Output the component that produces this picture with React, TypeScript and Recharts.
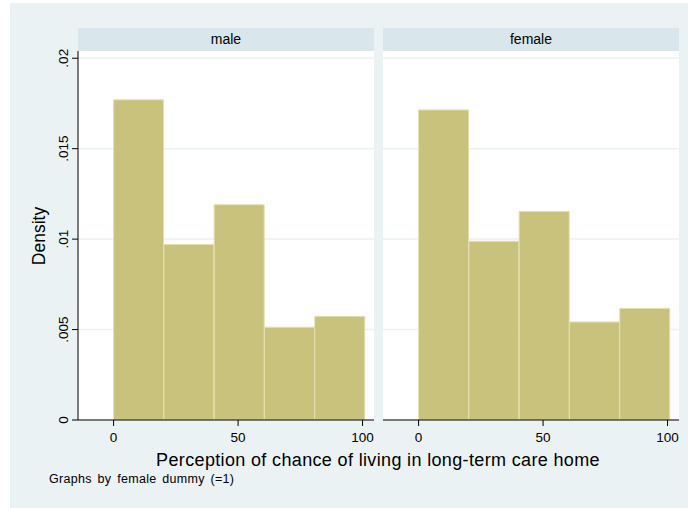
import React from "react";
import { BarChart, Bar, XAxis, YAxis, CartesianGrid } from "recharts";

// histogram bins (width ~20.2)
const BIN_MIDS = [10.1, 30.3, 50.5, 70.7, 90.9];
const MALE_DENSITY = [0.0177, 0.0097, 0.0119, 0.00513, 0.00573];
const FEMALE_DENSITY = [0.01714, 0.00988, 0.01153, 0.00542, 0.00617];
const Y_TICKS = [0, 0.005, 0.01, 0.015, 0.02];
const Y_TICK_LABELS = ["0", ".005", ".01", ".015", ".02"];
const X_TICKS = [0, 50, 100];
const PANELS = ["male", "female"];

const FONT = "'Liberation Sans', Arial, sans-serif";
const BAR_FILL = "#c9c27d";
const BAR_LINE = "#e3dfb0";
const GRID = "#eaf2f3";

const maleData = BIN_MIDS.map((x, i) => ({ x, density: MALE_DENSITY[i] }));
const femaleData = BIN_MIDS.map((x, i) => ({ x, density: FEMALE_DENSITY[i] }));

function YTick(props: any) {
  const { x, y, payload } = props;
  const i = Y_TICKS.indexOf(payload.value);
  return (
    <text x={x} y={y} transform={`rotate(-90 ${x} ${y})`} textAnchor="middle"
      fontSize={13.5} fill="#000" fontFamily={FONT}>
      {Y_TICK_LABELS[i] ?? payload.value}
    </text>
  );
}

function Panel({ data, showY }: { data: { x: number; density: number }[]; showY: boolean }) {
  return (
    <BarChart width={showY ? 376 : 298} height={450} data={data} barCategoryGap={0}
      margin={{ top: 51, right: 2, bottom: 0, left: 0 }}>
      <CartesianGrid fill="#fff" stroke={GRID} strokeWidth={1.5} vertical={false}
        horizontalValues={Y_TICKS} />
      <XAxis dataKey="x" type="number" domain={[-14.3, 104.6]} ticks={X_TICKS} allowDataOverflow
        height={30} tickSize={6} tickMargin={6} stroke="#000"
        tick={{ fontSize: 13.5, fill: "#000", fontFamily: FONT }} />
      <YAxis type="number" domain={[0, 0.0204]} ticks={Y_TICKS} allowDataOverflow hide={!showY}
        width={78} tickSize={6} tickMargin={4} stroke="#000" tick={<YTick />}
        label={{
          content: () => (
            <text x={45} y={236} transform="rotate(-90 45 236)" textAnchor="middle"
              fontSize={17.5} fill="#000" fontFamily={FONT}>Density</text>
          ),
        }} />
      <Bar dataKey="density" fill={BAR_FILL} stroke={BAR_LINE} strokeWidth={1}
        isAnimationActive={false} />
    </BarChart>
  );
}

export default function App() {
  const strips = [78, 383];
  return (
    <div style={{ position: "absolute", left: 0, top: 0, width: 691, height: 508, background: "#fff", fontFamily: FONT }}>
      <div style={{ position: "absolute", left: 10, top: 3, width: 678, height: 505, background: "#eaf2f3" }} />
      {PANELS.map((p, i) => (
        <div key={p} style={{
          position: "absolute", left: strips[i], top: 28, width: 296, height: 23, background: "#d9e6eb",
          fontSize: 14, lineHeight: "23px", textAlign: "center", color: "#000",
        }}>{p}</div>
      ))}
      <div style={{ position: "absolute", left: 0, top: 0 }}>
        <Panel data={maleData} showY />
      </div>
      <div style={{ position: "absolute", left: 383, top: 0 }}>
        <Panel data={femaleData} showY={false} />
      </div>
      <svg width={691} height={508} style={{ position: "absolute", left: 0, top: 0, pointerEvents: "none" }}>
        <text x={378} y={466} textAnchor="middle" fontSize={18} letterSpacing={0.35} fill="#000" fontFamily={FONT}>
          Perception of chance of living in long-term care home
        </text>
        <text x={49} y={483} fontSize={12.5} letterSpacing={0.3} wordSpacing={2} fill="#000" fontFamily={FONT}>
          Graphs by female dummy (=1)
        </text>
      </svg>
    </div>
  );
}
